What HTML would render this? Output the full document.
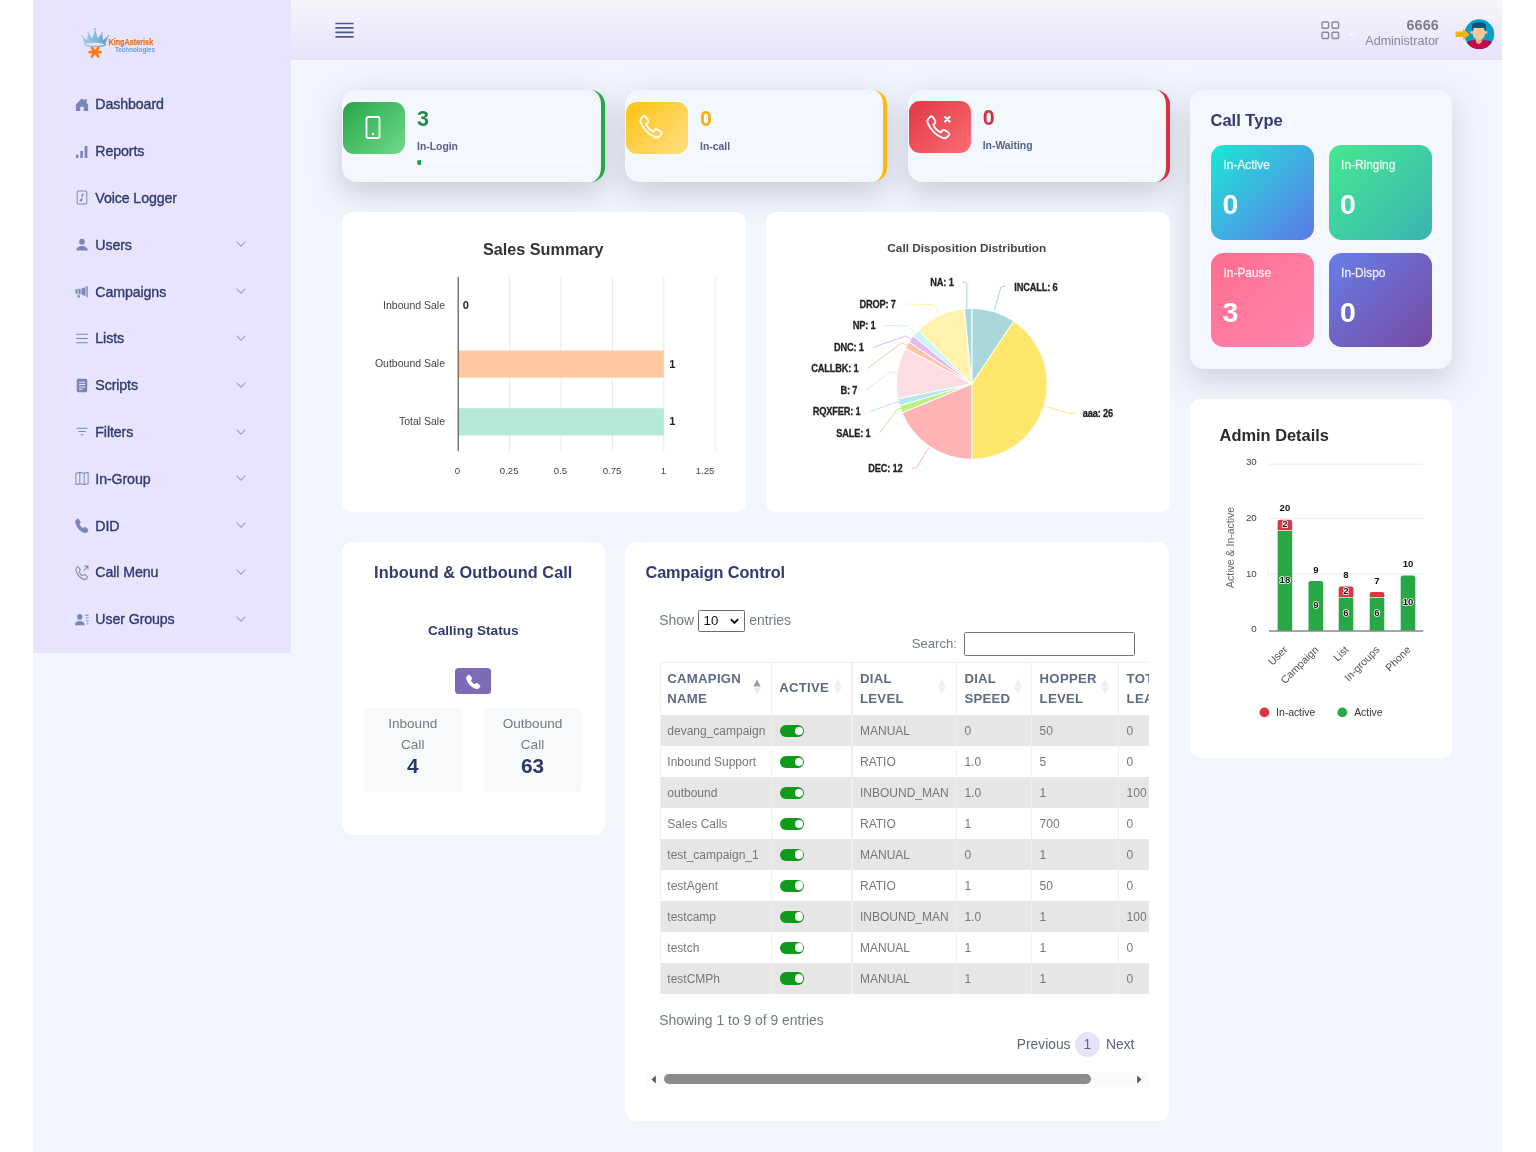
<!DOCTYPE html>
<html lang="en">
<head>
<meta charset="utf-8">
<title>Dashboard</title>
<style>
*{box-sizing:border-box;margin:0;padding:0}
html,body{width:1536px;height:1152px;overflow:hidden;background:#fff}
body{font-family:"Liberation Sans",sans-serif;color:#2f3b72;position:relative}
.abs{position:absolute}
#page{position:absolute;left:33px;top:0;width:1469px;height:1152px;background:#f1f5fe;overflow:hidden}
/* coordinates inside #page are offset by -33px; we use a wrapper shifted back */
#wrap{position:absolute;left:-33px;top:0;width:1536px;height:1152px}
#sidebar{position:absolute;left:33px;top:0;width:258.3px;height:652.800px;background:#e9e4fd}
#header{position:absolute;left:291.3px;top:0;width:1211.2px;height:59.6px;background:linear-gradient(180deg,#f7f4fa 0%,#efeafb 55%,#e8e2fc 100%);border-bottom:1px solid #e4def9}
.card{position:absolute;background:#fff;border-radius:11px}
.t{position:absolute;white-space:nowrap;line-height:1}
/* sidebar */
.mi{position:absolute;left:95.3px;font-size:14.2px;color:#2f3b72;white-space:nowrap;line-height:16px;-webkit-text-stroke:.35px #2f3b72;letter-spacing:-.1px}
.ic{position:absolute;left:75px;width:14px;height:15px}
.chev{position:absolute;left:236px;width:10px;height:6px}
</style>
</head>
<body>
<div id="page"><div id="wrap">

<!-- SIDEBAR -->
<div id="sidebar"></div>
<!--SB-START-->
<svg class="abs" style="left:78px;top:24px;width:84px;height:40px" viewBox="78 24 84 40">
<defs><linearGradient id="cg" x1="0" y1="0" x2="1" y2="0"><stop offset="0" stop-color="#a3cfe9"/><stop offset=".5" stop-color="#86b9dc"/><stop offset="1" stop-color="#6b9cc6"/></linearGradient></defs>
<path fill="url(#cg)" d="M81.600 35.800 87 40 88.200 32.600 92.300 38.600 95.100 29.500 97.900 38.600 102 32.600 103.200 40 108.600 35.800 105.600 43.200Q95.100 40.200 84.600 43.200Z"/>
<circle cx="95.100" cy="28.900" r="1" fill="#8bbcdd"/><circle cx="88.100" cy="32.200" r=".7" fill="#9ecbe6"/><circle cx="102.100" cy="32.200" r=".7" fill="#7fb0d4"/><circle cx="81.700" cy="35.500" r=".7" fill="#a3cfe9"/><circle cx="108.500" cy="35.500" r=".7" fill="#6b9cc6"/>
<ellipse cx="95" cy="44.300" rx="10.300" ry="2.300" fill="none" stroke="url(#cg)" stroke-width="1.500"/>
<path stroke="#fd7a12" stroke-width="2.700" stroke-linecap="round" d="M89.600 52.200h11M91.900 47.900l6.400 8.600M98.300 47.900l-6.400 8.600"/>
<text x="108.400" y="45.300" font-family="Liberation Sans, sans-serif" font-size="9.900" font-weight="bold" fill="#e87a1e" stroke="#d96a10" stroke-width=".25" textLength="44.800" lengthAdjust="spacingAndGlyphs">KingAsterisk</text>
<text x="115" y="51.900" font-family="Liberation Sans, sans-serif" font-size="6.700" font-weight="bold" fill="#5f9fd4" textLength="40" lengthAdjust="spacingAndGlyphs">Technologies</text>
</svg>
<svg class="ic" viewBox="0 0 16 16" preserveAspectRatio="none" style="top:96.7px"><path fill="#7a86b6" d="M8 1.2 1 8v6.6c0 .3.2.4.4.4H6v-4.5h4V15h4.6c.2 0 .4-.1.4-.4V8l-1.6-1.6V2.2H11v2L8 1.200z"/></svg>
<div class="mi" style="top:96.3px">Dashboard</div>
<svg class="ic" viewBox="0 0 16 16" preserveAspectRatio="none" style="top:143.5px"><path fill="#7a86b6" d="M1 11.5h3V15H1zM6 7.500h3V15H6zM11 2h3.200v13H11z"/></svg>
<div class="mi" style="top:143.1px">Reports</div>
<svg class="ic" viewBox="0 0 16 16" preserveAspectRatio="none" style="top:190.3px"><rect x="2.5" y="1" width="11" height="14" rx="1.5" fill="none" stroke="#7a86b6" stroke-width="1.100"/><path fill="#7a86b6" d="M9.800 3.800 7.500 4.500v5.200a1.600 1.300 0 1 0 .9 1.200V6.600l1.400-.4z"/></svg>
<div class="mi" style="top:189.9px">Voice Logger</div>
<svg class="ic" viewBox="0 0 16 16" preserveAspectRatio="none" style="top:237.1px"><circle cx="8" cy="5" r="3.200" fill="#7a86b6"/><path fill="#7a86b6" d="M1.500 14.500c0-3 3-4.800 6.500-4.800s6.500 1.800 6.500 4.800z"/></svg>
<div class="mi" style="top:236.7px">Users</div>
<svg class="chev" viewBox="0 0 10 6" style="top:241.4px"><path fill="none" stroke="#9aa1bf" stroke-width="1.100" d="M.6.700 5 5.100 9.400.700"/></svg>
<svg class="ic" viewBox="0 0 16 16" preserveAspectRatio="none" style="top:283.9px"><path fill="#7a86b6" d="M13 2h1.600v12H13zM12 3.200 7.500 4.800v6.400L12 12.800zM6.500 5H4v6h2.500zM3 5.500H.5v5H3zM2.500 12h2.800l.5 2.500H3.200z"/></svg>
<div class="mi" style="top:283.5px">Campaigns</div>
<svg class="chev" viewBox="0 0 10 6" style="top:288.2px"><path fill="none" stroke="#9aa1bf" stroke-width="1.100" d="M.6.700 5 5.100 9.400.700"/></svg>
<svg class="ic" viewBox="0 0 16 16" preserveAspectRatio="none" style="top:330.7px"><path stroke="#7a86b6" stroke-width="1.100" d="M1.500 3.500h13M1.500 8h13M1.500 12.500h13"/></svg>
<div class="mi" style="top:330.3px">Lists</div>
<svg class="chev" viewBox="0 0 10 6" style="top:335.0px"><path fill="none" stroke="#9aa1bf" stroke-width="1.100" d="M.6.700 5 5.100 9.400.700"/></svg>
<svg class="ic" viewBox="0 0 16 16" preserveAspectRatio="none" style="top:377.5px"><path fill="#7a86b6" d="M3.500.8h9a1.500 1.500 0 0 1 1.500 1.500v11.400a1.500 1.500 0 0 1-1.500 1.500h-9A1.500 1.500 0 0 1 2 13.700V2.300A1.500 1.500 0 0 1 3.500.8z"/><path stroke="#e9e4fd" stroke-width="1.100" d="M4.500 4.500h7M4.500 7h7M4.500 9.500h7M4.500 12h4"/></svg>
<div class="mi" style="top:377.1px">Scripts</div>
<svg class="chev" viewBox="0 0 10 6" style="top:381.8px"><path fill="none" stroke="#9aa1bf" stroke-width="1.100" d="M.6.700 5 5.100 9.400.700"/></svg>
<svg class="ic" viewBox="0 0 16 16" preserveAspectRatio="none" style="top:424.3px"><path stroke="#7a86b6" stroke-width="1.200" d="M2 4.500h12M4 8h8M6.500 11.500h3"/></svg>
<div class="mi" style="top:423.9px">Filters</div>
<svg class="chev" viewBox="0 0 10 6" style="top:428.6px"><path fill="none" stroke="#9aa1bf" stroke-width="1.100" d="M.6.700 5 5.100 9.400.700"/></svg>
<svg class="ic" viewBox="0 0 16 16" preserveAspectRatio="none" style="top:471.1px"><path fill="none" stroke="#7a86b6" stroke-width="1.100" stroke-linejoin="round" d="M1 2.500 5.500 1.500 10.500 2.500 15 1.500V13.500L10.500 14.500 5.500 13.500 1 14.500zM5.500 1.500v12M10.500 2.500v12"/></svg>
<div class="mi" style="top:470.7px">In-Group</div>
<svg class="chev" viewBox="0 0 10 6" style="top:475.4px"><path fill="none" stroke="#9aa1bf" stroke-width="1.100" d="M.6.700 5 5.100 9.400.700"/></svg>
<svg class="ic" viewBox="0 0 16 16" preserveAspectRatio="none" style="top:517.9px"><path fill="#7a86b6" d="M1.900 1.300c.7-.7 1.800-.6 2.400.1l1.800 2.300c.4.600.5 1.300.1 1.900l-.9 1.300c.3 1 2.700 3.600 3.900 3.900l1.300-.9c.6-.4 1.400-.4 1.900.1l2.300 1.800c.7.600.8 1.700.1 2.400l-1 1c-.7.700-1.800 1-2.800.7C5.500 14 1.900 10.400.3 5.200c-.300-1 0-2.100.700-2.800z"/></svg>
<div class="mi" style="top:517.5px">DID</div>
<svg class="chev" viewBox="0 0 10 6" style="top:522.2px"><path fill="none" stroke="#9aa1bf" stroke-width="1.100" d="M.6.700 5 5.100 9.400.700"/></svg>
<svg class="ic" viewBox="0 0 16 16" preserveAspectRatio="none" style="top:564.7px"><path fill="none" stroke="#7a86b6" stroke-width="1.100" d="M2.300 2.300c.5-.5 1.300-.4 1.700.1l1.700 2.200c.3.400.3.900.1 1.300l-1 1.500c.4 1.300 2.600 3.500 3.900 3.900l1.500-1c.4-.3.900-.2 1.300.1l2.200 1.700c.5.400.6 1.200.1 1.700l-1 1c-.6.600-1.500.8-2.300.6C6 14 2.500 10.400 1.100 5.600c-.200-.8 0-1.700.6-2.300z"/><path fill="none" stroke="#7a86b6" stroke-width="1.100" d="M10 6 14.800 1.200M11 1.200h3.800V5"/></svg>
<div class="mi" style="top:564.3px">Call Menu</div>
<svg class="chev" viewBox="0 0 10 6" style="top:569.0px"><path fill="none" stroke="#9aa1bf" stroke-width="1.100" d="M.6.700 5 5.100 9.400.700"/></svg>
<svg class="ic" viewBox="0 0 16 16" preserveAspectRatio="none" style="top:611.5px"><circle cx="5.500" cy="5.200" r="3" fill="#7a86b6"/><path fill="#7a86b6" d="M0 14c0-2.800 2.500-4.300 5.500-4.300S11 11.200 11 14z"/><path stroke="#7a86b6" stroke-width="1.100" d="M11.500 3.500h4M12.500 6.500h3M12.500 9.500h3M13.500 12.500h2"/></svg>
<div class="mi" style="top:611.1px">User Groups</div>
<svg class="chev" viewBox="0 0 10 6" style="top:615.8px"><path fill="none" stroke="#9aa1bf" stroke-width="1.100" d="M.6.700 5 5.100 9.400.700"/></svg>
<!--SB-END-->

<!-- HEADER -->
<div id="header"></div>
<!--HD-START-->
<svg class="abs" style="left:335px;top:21px;width:19px;height:18px" viewBox="0 0 19 18"><path stroke="#4b5a8c" stroke-width="1.700" d="M.4 2.500h18.200M.4 6.900h18.200M.4 11.300h18.200M.4 15.800h18.200"/></svg>
<svg class="abs" style="left:1320px;top:20px;width:21px;height:21px" viewBox="0 0 21 21"><g fill="none" stroke="#8a8996" stroke-width="1.400"><rect x="2" y="2" width="6.600" height="6.200" rx="1.200"/><rect x="12" y="2" width="6.600" height="6.200" rx="1.200"/><rect x="2" y="12.300" width="6.600" height="6.200" rx="1.200"/><rect x="12" y="12.300" width="6.600" height="6.200" rx="1.200"/></g></svg>
<svg class="abs" style="left:1348px;top:33px;width:6px;height:4px" viewBox="0 0 6 4"><path fill="#fbfaff" d="M0 0h6L3 3.500z"/></svg>
<div class="t" style="right:97px;top:17.500px;font-size:14.300px;font-weight:bold;color:#7d7c8b;letter-spacing:.2px">6666</div>
<div class="t" style="right:97px;top:35px;font-size:12.500px;color:#85849a">Administrator</div>
<svg class="abs" style="left:1450px;top:14px;width:50px;height:42px" viewBox="1450 14 50 42">
<defs><clipPath id="av"><circle cx="1479.300" cy="34.200" r="14.900"/></clipPath></defs>
<circle cx="1479.300" cy="34.200" r="14.900" fill="#04a2ca"/>
<g clip-path="url(#av)">
<path fill="#a50532" d="M1464 50c0-6.500 3.500-9.300 8-9.500h14.600c4.500.2 8 3 8 9.500z"/>
<path fill="#c8094e" d="M1470.500 50c-1.500-5-1-8 1.500-9.500h14.600c2.500 1.500 3 4.500 1.500 9.500z"/>
<path fill="#e5b685" d="M1476 38.500h5.700v3.800l-2.850 2-2.850-2z"/>
<circle cx="1471.700" cy="32.400" r="1.400" fill="#efc696"/><circle cx="1486" cy="32.400" r="1.400" fill="#efc696"/>
<path fill="#f0c99b" d="M1472.600 28h12.500v5.500c0 3.700-2.800 6.300-6.250 6.300s-6.250-2.600-6.250-6.300z"/>
<path fill="#0b4f7a" d="M1471.900 31.600v-5.600c0-2.200 1.600-3.600 3.500-3.600h6.900c1.900 0 3.500 1.400 3.500 3.600v5.600l-1.300-1.600-.8-2.400c-2 .6-7.700.6-9.700 0l-.8 2.400z"/>
</g>
<path fill="#fbb504" d="M1456.500 31.400h6.500v-2.700l6.700 5.700-6.700 5.700v-3.200h-6.500a1 1 0 0 1-1-1v-3.500a1 1 0 0 1 1-1z"/>
</svg>
<!--HD-END-->

<!--ST-START-->
<div class="abs" style="left:342px;top:90px;width:262.700px;height:92px;background:#f3f7fe;border-radius:14.500px;border-right:4.900px solid #28a745;box-shadow:0 10px 30px rgba(106,113,134,.33)">
<div class="abs" style="left:1.200px;top:12px;width:62px;height:52px;border-radius:11px;background:linear-gradient(135deg,#27a645 0%,#70da8c 100%)"><svg class="abs" style="left:22.300px;top:13px;width:16px;height:26px" viewBox="0 0 16 26"><rect x="1.500" y="2" width="13" height="21" rx="1.800" fill="none" stroke="#fff" stroke-width="1.800"/><circle cx="8" cy="19" r="1.200" fill="#fff"/></svg></div>
<div class="t" style="left:75px;top:18.5px;font-size:21.500px;font-weight:bold;color:#1f8a4a">3</div>
<div class="t" style="left:75px;top:51.500px;font-size:10.400px;font-weight:bold;color:#55618f">In-Login</div>
<div class="abs" style="left:75px;top:69.500px;width:172px;height:5px;border-radius:2.200px;background:#f8f9fe"></div><div class="abs" style="left:75px;top:69.500px;width:4px;height:5px;border-radius:2.200px 0 0 2.200px;background:#2a9d57"></div>
</div>
<div class="abs" style="left:625px;top:90px;width:261.700px;height:92px;background:#f3f7fe;border-radius:14.500px;border-right:4.900px solid #fcbc10;box-shadow:0 10px 30px rgba(106,113,134,.33)">
<div class="abs" style="left:1.200px;top:12px;width:62px;height:52px;border-radius:11px;background:linear-gradient(135deg,#ffc212 0%,#ffdf84 100%)"><svg class="abs" style="left:11.800px;top:11.200px;width:27px;height:27px" viewBox="0 0 24 24"><path fill="none" stroke="#fff" stroke-width="1.600" stroke-linejoin="round" d="M4.300 3.200c.8-.8 2-.7 2.600.2l2 3c.5.800.3 1.800-.4 2.400l-1.300 1c1 2.600 3.900 5.600 6.600 6.700l1.100-1.400c.6-.7 1.600-.9 2.400-.4l3 2c.9.600 1 1.800.2 2.600l-1.300 1.300c-1 1-2.500 1.300-3.800.8C9.800 19.200 4.800 14.200 2.300 8.300c-.5-1.300-.2-2.800.8-3.800z"/></svg></div>
<div class="t" style="left:75px;top:18.5px;font-size:21.500px;font-weight:bold;color:#f7b10b">0</div>
<div class="t" style="left:75px;top:51.500px;font-size:10.400px;font-weight:bold;color:#55618f">In-call</div>
<div class="abs" style="left:75px;top:69.500px;width:172px;height:5px;border-radius:2.200px;background:#f8f9fe"></div>
</div>
<div class="abs" style="left:907.7px;top:90px;width:262px;height:92px;background:#f3f7fe;border-radius:14.500px;border-right:4.900px solid #d8313f;box-shadow:0 10px 30px rgba(106,113,134,.33)">
<div class="abs" style="left:1.200px;top:11px;width:62px;height:52px;border-radius:11px;background:linear-gradient(135deg,#e23746 0%,#f96e72 100%)"><svg class="abs" style="left:16px;top:9.500px;width:32.200px;height:30px" viewBox="0 0 28 26"><path fill="none" stroke="#fff" stroke-width="1.600" stroke-linejoin="round" d="M4.300 5.200c.8-.8 2-.7 2.600.2l2 3c.5.800.3 1.800-.4 2.400l-1.300 1c1 2.600 3.900 5.600 6.600 6.700l1.100-1.400c.6-.7 1.600-.9 2.400-.4l3 2c.9.600 1 1.800.2 2.600l-1.300 1.300c-1 1-2.500 1.300-3.800.8C9.800 21.200 4.800 16.200 2.300 10.300c-.5-1.300-.2-2.800.8-3.800z"/><path stroke="#fff" stroke-width="1.900" stroke-linecap="round" d="M17.500 5.200l3.900 3.900M21.400 5.200l-3.900 3.900"/></svg></div>
<div class="t" style="left:75px;top:18.300px;font-size:21.500px;font-weight:bold;color:#d0303e">0</div>
<div class="t" style="left:75px;top:50.500px;font-size:10.400px;font-weight:bold;color:#55618f">In-Waiting</div>
<div class="abs" style="left:75px;top:68.500px;width:172px;height:5px;border-radius:2.200px;background:#f8f9fe"></div>
</div>
<!--ST-END-->

<!--CT-START-->
<div class="abs" style="left:1189.500px;top:90px;width:262.500px;height:279px;background:#f4f7fe;border-radius:14px;box-shadow:0 10px 30px rgba(106,113,134,.28)"></div>
<div class="t" style="left:1210.500px;top:112.300px;font-size:16.500px;font-weight:bold;color:#313b6e;letter-spacing:0">Call Type</div>
<div class="abs" style="left:1211px;top:145.2px;width:103.300px;height:94.500px;border-radius:12.500px;background:linear-gradient(135deg,#18e9d3 0%,#3fb0e0 50%,#5d78e8 100%)"><div class="t" style="left:12.500px;top:15px;font-size:11.900px;color:rgba(255,255,255,.82);-webkit-text-stroke:.3px rgba(255,255,255,.8)">In-Active</div><div class="t" style="left:11.500px;top:44.500px;font-size:28.500px;font-weight:bold;color:#fff">0</div></div>
<div class="abs" style="left:1328.6px;top:145.2px;width:103.300px;height:94.500px;border-radius:12.500px;background:linear-gradient(135deg,#43e890 0%,#40cfa2 50%,#3db2b2 100%)"><div class="t" style="left:12.500px;top:15px;font-size:11.900px;color:rgba(255,255,255,.82);-webkit-text-stroke:.3px rgba(255,255,255,.8)">In-Ringing</div><div class="t" style="left:11.500px;top:44.500px;font-size:28.500px;font-weight:bold;color:#fff">0</div></div>
<div class="abs" style="left:1211px;top:252.7px;width:103.300px;height:94.500px;border-radius:12.500px;background:linear-gradient(135deg,#ff6d8c 0%,#ff7b9f 50%,#ff82b0 100%)"><div class="t" style="left:12.500px;top:15px;font-size:11.900px;color:rgba(255,255,255,.82);-webkit-text-stroke:.3px rgba(255,255,255,.8)">In-Pause</div><div class="t" style="left:11.500px;top:45.800px;font-size:28.500px;font-weight:bold;color:#fff">3</div></div>
<div class="abs" style="left:1328.6px;top:252.7px;width:103.300px;height:94.500px;border-radius:12.500px;background:linear-gradient(135deg,#667eea 0%,#6f63c4 50%,#764ba2 100%)"><div class="t" style="left:12.500px;top:15px;font-size:11.900px;color:rgba(255,255,255,.82);-webkit-text-stroke:.3px rgba(255,255,255,.8)">In-Dispo</div><div class="t" style="left:11.500px;top:45.800px;font-size:28.500px;font-weight:bold;color:#fff">0</div></div>
<!--CT-END-->

<!--SS-START-->
<div class="card" style="left:342px;top:212px;width:403.500px;height:300px;border-radius:10px"></div>
<svg class="abs" style="left:342px;top:212px;width:404px;height:300px" viewBox="342 212 404 300">
<path stroke="#e9e9e9" stroke-width="1" d="M509.6 277V451"/>
<path stroke="#e9e9e9" stroke-width="1" d="M561 277V451"/>
<path stroke="#e9e9e9" stroke-width="1" d="M612.4 277V451"/>
<path stroke="#e9e9e9" stroke-width="1" d="M663.8 277V451"/>
<path stroke="#e9e9e9" stroke-width="1" d="M715.2 277V451"/>
<rect x="458.200" y="350.600" width="205.600" height="27" fill="#ffc6a2"/>
<rect x="458.200" y="408.200" width="205.600" height="27.300" fill="#b5ead7"/>
<path stroke="#555" stroke-width="1.200" d="M458.200 277V451"/>
<text x="543.300" y="255.300" text-anchor="middle" font-family="Liberation Sans, sans-serif" font-size="16.200" font-weight="bold" fill="#333">Sales Summary</text>
<text x="445" y="308.6" text-anchor="end" font-family="Liberation Sans, sans-serif" font-size="10.500" fill="#444">Inbound Sale</text>
<text x="445" y="366.6" text-anchor="end" font-family="Liberation Sans, sans-serif" font-size="10.500" fill="#444">Outbound Sale</text>
<text x="445" y="424.6" text-anchor="end" font-family="Liberation Sans, sans-serif" font-size="10.500" fill="#444">Total Sale</text>
<text x="462.800" y="309.300" font-family="Liberation Sans, sans-serif" font-size="11" font-weight="bold" fill="#222">0</text>
<text x="669.300" y="368.300" font-family="Liberation Sans, sans-serif" font-size="11" font-weight="bold" fill="#222">1</text>
<text x="669.300" y="425.300" font-family="Liberation Sans, sans-serif" font-size="11" font-weight="bold" fill="#222">1</text>
<text x="457.5" y="474.200" text-anchor="middle" font-family="Liberation Sans, sans-serif" font-size="9.600" fill="#444">0</text>
<text x="509.2" y="474.200" text-anchor="middle" font-family="Liberation Sans, sans-serif" font-size="9.600" fill="#444">0.25</text>
<text x="560.5" y="474.200" text-anchor="middle" font-family="Liberation Sans, sans-serif" font-size="9.600" fill="#444">0.5</text>
<text x="612" y="474.200" text-anchor="middle" font-family="Liberation Sans, sans-serif" font-size="9.600" fill="#444">0.75</text>
<text x="663.5" y="474.200" text-anchor="middle" font-family="Liberation Sans, sans-serif" font-size="9.600" fill="#444">1</text>
<text x="705" y="474.200" text-anchor="middle" font-family="Liberation Sans, sans-serif" font-size="9.600" fill="#444">1.25</text>
</svg>
<!--SS-END-->

<!--PIE-START-->
<div class="card" style="left:766px;top:212px;width:403.500px;height:300px;border-radius:10px"></div>
<svg class="abs" style="left:766px;top:212px;width:404px;height:300px" viewBox="766 212 404 300">
<path d="M971.8 383.9L971.80 308.40A75.5 75.5 0 0 1 1013.75 321.12Z" fill="#a8d8da" stroke="#fff" stroke-width="1" stroke-linejoin="round"/>
<path d="M971.8 383.9L1013.75 321.12A75.5 75.5 0 0 1 971.80 459.40Z" fill="#ffe66d" stroke="#fff" stroke-width="1" stroke-linejoin="round"/>
<path d="M971.8 383.9L971.80 459.40A75.5 75.5 0 0 1 902.05 412.79Z" fill="#ffb3b5" stroke="#fff" stroke-width="1" stroke-linejoin="round"/>
<path d="M971.8 383.9L902.05 412.79A75.5 75.5 0 0 1 899.55 405.82Z" fill="#b9f07e" stroke="#fff" stroke-width="1" stroke-linejoin="round"/>
<path d="M971.8 383.9L899.55 405.82A75.5 75.5 0 0 1 897.75 398.63Z" fill="#b5e8ea" stroke="#fff" stroke-width="1" stroke-linejoin="round"/>
<path d="M971.8 383.9L897.75 398.63A75.5 75.5 0 0 1 905.21 348.31Z" fill="#fddde4" stroke="#fff" stroke-width="1" stroke-linejoin="round"/>
<path d="M971.8 383.9L905.21 348.31A75.5 75.5 0 0 1 909.02 341.95Z" fill="#ffc5a8" stroke="#fff" stroke-width="1" stroke-linejoin="round"/>
<path d="M971.8 383.9L909.02 341.95A75.5 75.5 0 0 1 913.44 336.00Z" fill="#e3b9f7" stroke="#fff" stroke-width="1" stroke-linejoin="round"/>
<path d="M971.8 383.9L913.44 336.00A75.5 75.5 0 0 1 918.41 330.51Z" fill="#c9f5fa" stroke="#fff" stroke-width="1" stroke-linejoin="round"/>
<path d="M971.8 383.9L918.41 330.51A75.5 75.5 0 0 1 964.40 308.76Z" fill="#fff3ad" stroke="#fff" stroke-width="1" stroke-linejoin="round"/>
<path d="M971.8 383.9L964.40 308.76A75.5 75.5 0 0 1 971.80 308.40Z" fill="#a8d8da" stroke="#fff" stroke-width="1" stroke-linejoin="round"/>
<path d="M966.8 308.4L966.8 283L962.6 281.9" fill="none" stroke="#a8d8da" stroke-width="1"/>
<path d="M994.2 310.4L1000.9 287.2L1005.9 286" fill="none" stroke="#a8d8da" stroke-width="1"/>
<path d="M938.8 314L934.6 304.8L905.3 304" fill="none" stroke="#fff3ad" stroke-width="1"/>
<path d="M917 333.6L906.7 325.7L884.3 325.5" fill="none" stroke="#c9f5fa" stroke-width="1"/>
<path d="M910.9 338.9L905.3 336.1L873.2 347.3" fill="none" stroke="#e3b9f7" stroke-width="1"/>
<path d="M906.7 345.3L902 342.5L867.6 368.5" fill="none" stroke="#ffc5a8" stroke-width="1"/>
<path d="M896.9 373.8L889.9 371.9L866.2 390" fill="none" stroke="#fddde4" stroke-width="1"/>
<path d="M898.9 401.8L892.7 403.2L870.4 411.5" fill="none" stroke="#b5e8ea" stroke-width="1"/>
<path d="M901.1 408.2L896.9 409.6L879.6 432.8" fill="none" stroke="#b9f07e" stroke-width="1"/>
<path d="M929.1 447.3L916.5 467.7L911.7 468.5" fill="none" stroke="#ffb3b5" stroke-width="1"/>
<path d="M1045 406.2L1070.2 413.8L1075.2 412.9" fill="none" stroke="#ffe66d" stroke-width="1"/>
<text x="966.800" y="251.600" text-anchor="middle" font-family="Liberation Sans, sans-serif" font-size="11.800" font-weight="bold" fill="#444" textLength="159" lengthAdjust="spacingAndGlyphs">Call Disposition Distribution</text>
<text transform="translate(953.6 286.3) scale(1 1.2)" text-anchor="end" font-family="Liberation Sans, sans-serif" font-size="9.300" font-weight="bold" fill="#222" stroke="#222" stroke-width=".22" letter-spacing="-.2">NA: 1</text>
<text transform="translate(1014.3 290.5) scale(1 1.2)" text-anchor="start" font-family="Liberation Sans, sans-serif" font-size="9.300" font-weight="bold" fill="#222" stroke="#222" stroke-width=".22" letter-spacing="-.2">INCALL: 6</text>
<text transform="translate(895.8 307.9) scale(1 1.2)" text-anchor="end" font-family="Liberation Sans, sans-serif" font-size="9.300" font-weight="bold" fill="#222" stroke="#222" stroke-width=".22" letter-spacing="-.2">DROP: 7</text>
<text transform="translate(875.4 329.4) scale(1 1.2)" text-anchor="end" font-family="Liberation Sans, sans-serif" font-size="9.300" font-weight="bold" fill="#222" stroke="#222" stroke-width=".22" letter-spacing="-.2">NP: 1</text>
<text transform="translate(863.7 350.6) scale(1 1.2)" text-anchor="end" font-family="Liberation Sans, sans-serif" font-size="9.300" font-weight="bold" fill="#222" stroke="#222" stroke-width=".22" letter-spacing="-.2">DNC: 1</text>
<text transform="translate(858.4 372.4) scale(1 1.2)" text-anchor="end" font-family="Liberation Sans, sans-serif" font-size="9.300" font-weight="bold" fill="#222" stroke="#222" stroke-width=".22" letter-spacing="-.2">CALLBK: 1</text>
<text transform="translate(857.2 393.9) scale(1 1.2)" text-anchor="end" font-family="Liberation Sans, sans-serif" font-size="9.300" font-weight="bold" fill="#222" stroke="#222" stroke-width=".22" letter-spacing="-.2">B: 7</text>
<text transform="translate(860.6 415.4) scale(1 1.2)" text-anchor="end" font-family="Liberation Sans, sans-serif" font-size="9.300" font-weight="bold" fill="#222" stroke="#222" stroke-width=".22" letter-spacing="-.2">RQXFER: 1</text>
<text transform="translate(870.4 436.7) scale(1 1.2)" text-anchor="end" font-family="Liberation Sans, sans-serif" font-size="9.300" font-weight="bold" fill="#222" stroke="#222" stroke-width=".22" letter-spacing="-.2">SALE: 1</text>
<text transform="translate(902.5 472.4) scale(1 1.2)" text-anchor="end" font-family="Liberation Sans, sans-serif" font-size="9.300" font-weight="bold" fill="#222" stroke="#222" stroke-width=".22" letter-spacing="-.2">DEC: 12</text>
<text transform="translate(1082.8 416.5) scale(1 1.2)" text-anchor="start" font-family="Liberation Sans, sans-serif" font-size="9.300" font-weight="bold" fill="#222" stroke="#222" stroke-width=".22" letter-spacing="-.2">aaa: 26</text>
</svg>
<!--PIE-END-->

<!--AD-START-->
<div class="card" style="left:1189.500px;top:399.300px;width:262.700px;height:358.400px;border-radius:10px"></div>
<svg class="abs" style="left:1189px;top:399px;width:264px;height:359px" viewBox="1189 399 264 359">
<text x="1219.600" y="441" font-family="Liberation Sans, sans-serif" font-size="16.400" font-weight="bold" fill="#2a2a2a">Admin Details</text>
<path stroke="#ececec" stroke-width="1" d="M1269 464.2H1423.300"/>
<path stroke="#ececec" stroke-width="1" d="M1269 518.6H1423.300"/>
<path stroke="#ececec" stroke-width="1" d="M1269 574.0H1423.300"/>
<text x="1256.800" y="465.3" text-anchor="end" font-family="Liberation Sans, sans-serif" font-size="9.800" fill="#444">30</text>
<text x="1256.800" y="521.3" text-anchor="end" font-family="Liberation Sans, sans-serif" font-size="9.800" fill="#444">20</text>
<text x="1256.800" y="577.4" text-anchor="end" font-family="Liberation Sans, sans-serif" font-size="9.800" fill="#444">10</text>
<text x="1256.800" y="632.1" text-anchor="end" font-family="Liberation Sans, sans-serif" font-size="9.800" fill="#444">0</text>
<text transform="translate(1234.300 547.400) rotate(-90)" text-anchor="middle" font-family="Liberation Sans, sans-serif" font-size="10.500" fill="#666">Active &amp; In-active</text>
<rect x="1277.60" y="530.92" width="14.6" height="100.08" fill="#28a745"/>
<path fill="#dc3545" d="M1277.60 530.32V522.00Q1277.60 519.80 1279.80 519.80H1290.00Q1292.20 519.80 1292.20 522.00V530.32Z"/>
<text x="1284.9" y="511.4" text-anchor="middle" font-family="Liberation Sans, sans-serif" font-size="9.600" font-weight="bold" fill="#111">20</text>
<text x="1284.9" y="582.7" text-anchor="middle" font-family="Liberation Sans, sans-serif" font-size="9.600" font-weight="bold" fill="#111" stroke="#fff" stroke-width="1.600" paint-order="stroke" stroke-linejoin="round">18</text>
<text x="1284.9" y="527.1" text-anchor="middle" font-family="Liberation Sans, sans-serif" font-size="9.600" font-weight="bold" fill="#111" stroke="#fff" stroke-width="1.600" paint-order="stroke" stroke-linejoin="round">2</text>
<text transform="translate(1288.2 650.300) rotate(-45)" text-anchor="end" font-family="Liberation Sans, sans-serif" font-size="10.600" fill="#555">User</text>
<path fill="#28a745" d="M1308.50 631.00V583.16Q1308.50 580.96 1310.70 580.96H1320.90Q1323.10 580.96 1323.10 583.16V631.00Z"/>
<text x="1315.8" y="572.6" text-anchor="middle" font-family="Liberation Sans, sans-serif" font-size="9.600" font-weight="bold" fill="#111">9</text>
<text x="1315.8" y="607.7" text-anchor="middle" font-family="Liberation Sans, sans-serif" font-size="9.600" font-weight="bold" fill="#111" stroke="#fff" stroke-width="1.600" paint-order="stroke" stroke-linejoin="round">9</text>
<text transform="translate(1319.1 650.300) rotate(-45)" text-anchor="end" font-family="Liberation Sans, sans-serif" font-size="10.600" fill="#555">Campaign</text>
<rect x="1338.70" y="597.64" width="14.6" height="33.36" fill="#28a745"/>
<path fill="#dc3545" d="M1338.70 597.04V588.72Q1338.70 586.52 1340.90 586.52H1351.10Q1353.30 586.52 1353.30 588.72V597.04Z"/>
<text x="1346.0" y="578.1" text-anchor="middle" font-family="Liberation Sans, sans-serif" font-size="9.600" font-weight="bold" fill="#111">8</text>
<text x="1346.0" y="616.0" text-anchor="middle" font-family="Liberation Sans, sans-serif" font-size="9.600" font-weight="bold" fill="#111" stroke="#fff" stroke-width="1.600" paint-order="stroke" stroke-linejoin="round">6</text>
<text x="1346.0" y="593.8" text-anchor="middle" font-family="Liberation Sans, sans-serif" font-size="9.600" font-weight="bold" fill="#111" stroke="#fff" stroke-width="1.600" paint-order="stroke" stroke-linejoin="round">2</text>
<text transform="translate(1349.3 650.300) rotate(-45)" text-anchor="end" font-family="Liberation Sans, sans-serif" font-size="10.600" fill="#555">List</text>
<rect x="1369.70" y="597.64" width="14.6" height="33.36" fill="#28a745"/>
<path fill="#dc3545" d="M1369.70 597.04V594.28Q1369.70 592.08 1371.90 592.08H1382.10Q1384.30 592.08 1384.30 594.28V597.04Z"/>
<text x="1377.0" y="583.7" text-anchor="middle" font-family="Liberation Sans, sans-serif" font-size="9.600" font-weight="bold" fill="#111">7</text>
<text x="1377.0" y="616.0" text-anchor="middle" font-family="Liberation Sans, sans-serif" font-size="9.600" font-weight="bold" fill="#111" stroke="#fff" stroke-width="1.600" paint-order="stroke" stroke-linejoin="round">6</text>
<text transform="translate(1380.3 650.300) rotate(-45)" text-anchor="end" font-family="Liberation Sans, sans-serif" font-size="10.600" fill="#555">In-groups</text>
<path fill="#28a745" d="M1400.70 631.00V577.60Q1400.70 575.40 1402.90 575.40H1413.10Q1415.30 575.40 1415.30 577.60V631.00Z"/>
<text x="1408.0" y="567.0" text-anchor="middle" font-family="Liberation Sans, sans-serif" font-size="9.600" font-weight="bold" fill="#111">10</text>
<text x="1408.0" y="604.9" text-anchor="middle" font-family="Liberation Sans, sans-serif" font-size="9.600" font-weight="bold" fill="#111" stroke="#fff" stroke-width="1.600" paint-order="stroke" stroke-linejoin="round">10</text>
<text transform="translate(1411.3 650.300) rotate(-45)" text-anchor="end" font-family="Liberation Sans, sans-serif" font-size="10.600" fill="#555">Phone</text>
<path stroke="#888" stroke-width="1.400" d="M1269 631H1423.300"/>
<circle cx="1264.400" cy="712.400" r="4.900" fill="#dc3545"/><text x="1276" y="715.800" font-family="Liberation Sans, sans-serif" font-size="10.400" fill="#333">In-active</text>
<circle cx="1342.300" cy="712.400" r="4.900" fill="#28a745"/><text x="1354.200" y="715.800" font-family="Liberation Sans, sans-serif" font-size="10.400" fill="#333">Active</text>
</svg>
<!--AD-END-->

<!--IO-START-->
<div class="card" style="left:342px;top:542px;width:262.500px;height:292.500px;border-radius:11px"></div>
<div class="t" style="left:342px;width:262.500px;text-align:center;top:564px;font-size:16.300px;font-weight:bold;color:#313b6e;letter-spacing:.05px">Inbound &amp; Outbound Call</div>
<div class="t" style="left:342px;width:262.500px;text-align:center;top:624.300px;font-size:13.600px;font-weight:bold;color:#313b6e;letter-spacing:0">Calling Status</div>
<div class="abs" style="left:454.700px;top:668px;width:36.700px;height:25.700px;border-radius:3.500px;background:#7d6bb8"><svg class="abs" style="left:11px;top:5.500px;width:15px;height:15px" viewBox="0 0 16 16"><path fill="#fff" d="M1.900 1.300c.7-.7 1.800-.6 2.400.1l1.800 2.300c.4.600.5 1.300.1 1.900l-.9 1.300c.3 1 2.700 3.600 3.900 3.900l1.300-.9c.6-.4 1.400-.4 1.900.1l2.300 1.800c.7.600.8 1.700.1 2.400l-1 1c-.7.700-1.800 1-2.800.7C5.500 14 1.900 10.400.3 5.200c-.300-1 0-2.100.700-2.800z"/></svg></div>
<div class="abs" style="left:362.8px;top:707.800px;width:99.800px;height:84.700px;border-radius:4px;background:#f8f9fb;text-align:center"><div class="t" style="left:0;width:100%;top:9.500px;font-size:13.600px;color:#737b86">Inbound</div><div class="t" style="left:0;width:100%;top:30px;font-size:13.600px;color:#737b86">Call</div><div class="t" style="left:0;width:100%;top:48.300px;font-size:20.800px;font-weight:bold;color:#2c3769">4</div></div>
<div class="abs" style="left:482.6px;top:707.800px;width:99.800px;height:84.700px;border-radius:4px;background:#f8f9fb;text-align:center"><div class="t" style="left:0;width:100%;top:9.500px;font-size:13.600px;color:#737b86">Outbound</div><div class="t" style="left:0;width:100%;top:30px;font-size:13.600px;color:#737b86">Call</div><div class="t" style="left:0;width:100%;top:48.300px;font-size:20.800px;font-weight:bold;color:#2c3769">63</div></div>
<!--IO-END-->

<!--CC-START-->
<div class="card" style="left:625.300px;top:542px;width:544.200px;height:579.200px;border-radius:11px"></div>
<div class="t" style="left:645.500px;top:564px;font-size:16.300px;font-weight:bold;color:#313b6e;letter-spacing:-.1px">Campaign Control</div>
<div class="t" style="left:659.300px;top:613.500px;font-size:13.900px;color:#737b86">Show</div>
<div class="abs" style="left:698px;top:609.700px;width:47px;height:22px;border:1px solid #6b6b6b;border-radius:1.500px;background:#fff"><div class="t" style="left:4.500px;top:3.500px;font-size:13.300px;color:#111">10</div><svg class="abs" style="left:31px;top:7px;width:9px;height:7px" viewBox="0 0 9 7"><path fill="none" stroke="#111" stroke-width="1.900" d="M.8 1.200 4.500 5 8.200 1.200"/></svg></div>
<div class="t" style="left:749.300px;top:613.500px;font-size:13.900px;color:#737b86">entries</div>
<div class="t" style="left:911.800px;top:636.600px;font-size:13.100px;color:#737b86">Search:</div>
<div class="abs" style="left:964px;top:631.800px;width:170.700px;height:24px;border:1.300px solid #757575;border-radius:1.500px;background:#fff"></div>
<div class="abs" style="left:659.5px;top:662.0px;width:489.1px;height:331.8px;overflow:hidden">
<div class="abs" style="left:0;top:0;width:600px;height:53.200000000000045px;background:#fff;border-top:1px solid #efeff1;border-left:1px solid #efeff1"></div>
<div class="abs" style="left:0;top:53.20px;width:600px;height:31.05px;background:#e6e6e6"></div>
<div class="abs" style="left:0;top:84.15px;width:600px;height:31.05px;background:#fff"></div>
<div class="abs" style="left:0;top:115.10px;width:600px;height:31.05px;background:#e6e6e6"></div>
<div class="abs" style="left:0;top:146.05px;width:600px;height:31.05px;background:#fff"></div>
<div class="abs" style="left:0;top:177.00px;width:600px;height:31.05px;background:#e6e6e6"></div>
<div class="abs" style="left:0;top:207.95px;width:600px;height:31.05px;background:#fff"></div>
<div class="abs" style="left:0;top:238.90px;width:600px;height:31.05px;background:#e6e6e6"></div>
<div class="abs" style="left:0;top:269.85px;width:600px;height:31.05px;background:#fff"></div>
<div class="abs" style="left:0;top:300.80px;width:600px;height:31.05px;background:#e6e6e6"></div>
<div class="abs" style="left:111.1px;top:0;width:1.200px;height:400px;background:#efeff1"></div>

<div class="abs" style="left:191.9px;top:0;width:1.200px;height:400px;background:#efeff1"></div>

<div class="abs" style="left:296.3px;top:0;width:1.200px;height:400px;background:#efeff1"></div>

<div class="abs" style="left:371.5px;top:0;width:1.200px;height:400px;background:#efeff1"></div>

<div class="abs" style="left:458.5px;top:0;width:1.200px;height:400px;background:#efeff1"></div>

<div class="abs" style="left:0;top:53.200000000000045px;width:1px;height:400px;background:#efeff1"></div>
<div class="t" style="left:7.8px;top:10px;font-size:13.200px;font-weight:bold;color:#5e6b83;letter-spacing:.25px">CAMAPIGN</div>
<div class="t" style="left:7.8px;top:29.500px;font-size:13.200px;font-weight:bold;color:#5e6b83;letter-spacing:.25px">NAME</div>
<div class="t" style="left:119.7px;top:18.900px;font-size:13.200px;font-weight:bold;color:#5e6b83;letter-spacing:.25px">ACTIVE</div>
<div class="t" style="left:200.5px;top:10px;font-size:13.200px;font-weight:bold;color:#5e6b83;letter-spacing:.25px">DIAL</div>
<div class="t" style="left:200.5px;top:29.500px;font-size:13.200px;font-weight:bold;color:#5e6b83;letter-spacing:.25px">LEVEL</div>
<div class="t" style="left:304.9px;top:10px;font-size:13.200px;font-weight:bold;color:#5e6b83;letter-spacing:.25px">DIAL</div>
<div class="t" style="left:304.9px;top:29.500px;font-size:13.200px;font-weight:bold;color:#5e6b83;letter-spacing:.25px">SPEED</div>
<div class="t" style="left:380.1px;top:10px;font-size:13.200px;font-weight:bold;color:#5e6b83;letter-spacing:.25px">HOPPER</div>
<div class="t" style="left:380.1px;top:29.500px;font-size:13.200px;font-weight:bold;color:#5e6b83;letter-spacing:.25px">LEVEL</div>
<div class="t" style="left:467.1px;top:10px;font-size:13.200px;font-weight:bold;color:#5e6b83;letter-spacing:.25px">TOTAL</div>
<div class="t" style="left:467.1px;top:29.500px;font-size:13.200px;font-weight:bold;color:#5e6b83;letter-spacing:.25px">LEADS</div>
<svg class="abs" style="left:93.6px;top:16.200px;width:8px;height:17px" viewBox="0 0 8 17"><path fill="#9aa2b1" d="M4 1.200 7.700 8.400H.300z"/><path fill="#e9ebef" d="M4 16 7.600 9.600H.4z"/></svg>
<svg class="abs" style="left:174.4px;top:16.200px;width:8px;height:17px" viewBox="0 0 8 17"><path fill="#eceef2" d="M4 1.200 7.700 8.400H.300z"/><path fill="#e9ebef" d="M4 16 7.600 9.600H.4z"/></svg>
<svg class="abs" style="left:278.8px;top:16.200px;width:8px;height:17px" viewBox="0 0 8 17"><path fill="#eceef2" d="M4 1.200 7.700 8.400H.300z"/><path fill="#e9ebef" d="M4 16 7.600 9.600H.4z"/></svg>
<svg class="abs" style="left:354.0px;top:16.200px;width:8px;height:17px" viewBox="0 0 8 17"><path fill="#eceef2" d="M4 1.200 7.700 8.400H.300z"/><path fill="#e9ebef" d="M4 16 7.600 9.600H.4z"/></svg>
<svg class="abs" style="left:441.0px;top:16.200px;width:8px;height:17px" viewBox="0 0 8 17"><path fill="#eceef2" d="M4 1.200 7.700 8.400H.300z"/><path fill="#e9ebef" d="M4 16 7.600 9.600H.4z"/></svg>
<div class="t" style="left:7.800px;top:62.9px;font-size:12px;color:#777;letter-spacing:0">devang_campaign</div>
<div class="abs" style="left:120.1px;top:62.8px;width:24.300px;height:12.200px;border-radius:6.100px;background:#0f9a1c"><div class="abs" style="right:.800px;top:1.900px;width:8.400px;height:8.400px;border-radius:50%;background:#fff"></div></div>
<div class="t" style="left:200.5px;top:62.9px;font-size:12px;color:#777;letter-spacing:0">MANUAL</div>
<div class="t" style="left:304.9px;top:62.9px;font-size:12px;color:#777;letter-spacing:0">0</div>
<div class="t" style="left:380.1px;top:62.9px;font-size:12px;color:#777;letter-spacing:0">50</div>
<div class="t" style="left:467.1px;top:62.9px;font-size:12px;color:#777;letter-spacing:0">0</div>
<div class="t" style="left:7.800px;top:93.9px;font-size:12px;color:#777;letter-spacing:0">Inbound Support</div>
<div class="abs" style="left:120.1px;top:93.8px;width:24.300px;height:12.200px;border-radius:6.100px;background:#0f9a1c"><div class="abs" style="right:.800px;top:1.900px;width:8.400px;height:8.400px;border-radius:50%;background:#fff"></div></div>
<div class="t" style="left:200.5px;top:93.9px;font-size:12px;color:#777;letter-spacing:0">RATIO</div>
<div class="t" style="left:304.9px;top:93.9px;font-size:12px;color:#777;letter-spacing:0">1.0</div>
<div class="t" style="left:380.1px;top:93.9px;font-size:12px;color:#777;letter-spacing:0">5</div>
<div class="t" style="left:467.1px;top:93.9px;font-size:12px;color:#777;letter-spacing:0">0</div>
<div class="t" style="left:7.800px;top:124.8px;font-size:12px;color:#777;letter-spacing:0">outbound</div>
<div class="abs" style="left:120.1px;top:124.7px;width:24.300px;height:12.200px;border-radius:6.100px;background:#0f9a1c"><div class="abs" style="right:.800px;top:1.900px;width:8.400px;height:8.400px;border-radius:50%;background:#fff"></div></div>
<div class="t" style="left:200.5px;top:124.8px;font-size:12px;color:#777;letter-spacing:0">INBOUND_MAN</div>
<div class="t" style="left:304.9px;top:124.8px;font-size:12px;color:#777;letter-spacing:0">1.0</div>
<div class="t" style="left:380.1px;top:124.8px;font-size:12px;color:#777;letter-spacing:0">1</div>
<div class="t" style="left:467.1px;top:124.8px;font-size:12px;color:#777;letter-spacing:0">100</div>
<div class="t" style="left:7.800px;top:155.8px;font-size:12px;color:#777;letter-spacing:0">Sales Calls</div>
<div class="abs" style="left:120.1px;top:155.7px;width:24.300px;height:12.200px;border-radius:6.100px;background:#0f9a1c"><div class="abs" style="right:.800px;top:1.900px;width:8.400px;height:8.400px;border-radius:50%;background:#fff"></div></div>
<div class="t" style="left:200.5px;top:155.8px;font-size:12px;color:#777;letter-spacing:0">RATIO</div>
<div class="t" style="left:304.9px;top:155.8px;font-size:12px;color:#777;letter-spacing:0">1</div>
<div class="t" style="left:380.1px;top:155.8px;font-size:12px;color:#777;letter-spacing:0">700</div>
<div class="t" style="left:467.1px;top:155.8px;font-size:12px;color:#777;letter-spacing:0">0</div>
<div class="t" style="left:7.800px;top:186.7px;font-size:12px;color:#777;letter-spacing:0">test_campaign_1</div>
<div class="abs" style="left:120.1px;top:186.6px;width:24.300px;height:12.200px;border-radius:6.100px;background:#0f9a1c"><div class="abs" style="right:.800px;top:1.900px;width:8.400px;height:8.400px;border-radius:50%;background:#fff"></div></div>
<div class="t" style="left:200.5px;top:186.7px;font-size:12px;color:#777;letter-spacing:0">MANUAL</div>
<div class="t" style="left:304.9px;top:186.7px;font-size:12px;color:#777;letter-spacing:0">0</div>
<div class="t" style="left:380.1px;top:186.7px;font-size:12px;color:#777;letter-spacing:0">1</div>
<div class="t" style="left:467.1px;top:186.7px;font-size:12px;color:#777;letter-spacing:0">0</div>
<div class="t" style="left:7.800px;top:217.7px;font-size:12px;color:#777;letter-spacing:0">testAgent</div>
<div class="abs" style="left:120.1px;top:217.6px;width:24.300px;height:12.200px;border-radius:6.100px;background:#0f9a1c"><div class="abs" style="right:.800px;top:1.900px;width:8.400px;height:8.400px;border-radius:50%;background:#fff"></div></div>
<div class="t" style="left:200.5px;top:217.7px;font-size:12px;color:#777;letter-spacing:0">RATIO</div>
<div class="t" style="left:304.9px;top:217.7px;font-size:12px;color:#777;letter-spacing:0">1</div>
<div class="t" style="left:380.1px;top:217.7px;font-size:12px;color:#777;letter-spacing:0">50</div>
<div class="t" style="left:467.1px;top:217.7px;font-size:12px;color:#777;letter-spacing:0">0</div>
<div class="t" style="left:7.800px;top:248.6px;font-size:12px;color:#777;letter-spacing:0">testcamp</div>
<div class="abs" style="left:120.1px;top:248.5px;width:24.300px;height:12.200px;border-radius:6.100px;background:#0f9a1c"><div class="abs" style="right:.800px;top:1.900px;width:8.400px;height:8.400px;border-radius:50%;background:#fff"></div></div>
<div class="t" style="left:200.5px;top:248.6px;font-size:12px;color:#777;letter-spacing:0">INBOUND_MAN</div>
<div class="t" style="left:304.9px;top:248.6px;font-size:12px;color:#777;letter-spacing:0">1.0</div>
<div class="t" style="left:380.1px;top:248.6px;font-size:12px;color:#777;letter-spacing:0">1</div>
<div class="t" style="left:467.1px;top:248.6px;font-size:12px;color:#777;letter-spacing:0">100</div>
<div class="t" style="left:7.800px;top:279.6px;font-size:12px;color:#777;letter-spacing:0">testch</div>
<div class="abs" style="left:120.1px;top:279.5px;width:24.300px;height:12.200px;border-radius:6.100px;background:#0f9a1c"><div class="abs" style="right:.800px;top:1.900px;width:8.400px;height:8.400px;border-radius:50%;background:#fff"></div></div>
<div class="t" style="left:200.5px;top:279.6px;font-size:12px;color:#777;letter-spacing:0">MANUAL</div>
<div class="t" style="left:304.9px;top:279.6px;font-size:12px;color:#777;letter-spacing:0">1</div>
<div class="t" style="left:380.1px;top:279.6px;font-size:12px;color:#777;letter-spacing:0">1</div>
<div class="t" style="left:467.1px;top:279.6px;font-size:12px;color:#777;letter-spacing:0">0</div>
<div class="t" style="left:7.800px;top:310.5px;font-size:12px;color:#777;letter-spacing:0">testCMPh</div>
<div class="abs" style="left:120.1px;top:310.4px;width:24.300px;height:12.200px;border-radius:6.100px;background:#0f9a1c"><div class="abs" style="right:.800px;top:1.900px;width:8.400px;height:8.400px;border-radius:50%;background:#fff"></div></div>
<div class="t" style="left:200.5px;top:310.5px;font-size:12px;color:#777;letter-spacing:0">MANUAL</div>
<div class="t" style="left:304.9px;top:310.5px;font-size:12px;color:#777;letter-spacing:0">1</div>
<div class="t" style="left:380.1px;top:310.5px;font-size:12px;color:#777;letter-spacing:0">1</div>
<div class="t" style="left:467.1px;top:310.5px;font-size:12px;color:#777;letter-spacing:0">0</div>
</div>
<div class="t" style="left:659.300px;top:1013.800px;font-size:13.900px;color:#737b86">Showing 1 to 9 of 9 entries</div>
<div class="t" style="left:1016.800px;top:1038px;font-size:13.800px;color:#5d6578">Previous</div>
<div class="abs" style="left:1074.800px;top:1032px;width:25.200px;height:25.200px;border-radius:50%;background:#e7e1fb"></div>
<div class="t" style="left:1074.800px;width:25.200px;text-align:center;top:1038px;font-size:13.800px;color:#5d6578">1</div>
<div class="t" style="left:1106px;top:1038px;font-size:13.800px;color:#5d6578">Next</div>
<div class="abs" style="left:645.800px;top:1071.700px;width:502.800px;height:15px;background:#fafafa"></div>
<div class="abs" style="left:664.400px;top:1074.300px;width:426.700px;height:9.700px;border-radius:5px;background:#8b8b8b"></div>
<svg class="abs" style="left:650.500px;top:1074.700px;width:5px;height:9px" viewBox="0 0 5 9"><path fill="#555" d="M4.800.5V8.500L.5 4.500z"/></svg>
<svg class="abs" style="left:1136.500px;top:1074.700px;width:5px;height:9px" viewBox="0 0 5 9"><path fill="#555" d="M.2.500V8.500L4.500 4.500z"/></svg>
<!--CC-END-->

</div></div>
</body>
</html>
